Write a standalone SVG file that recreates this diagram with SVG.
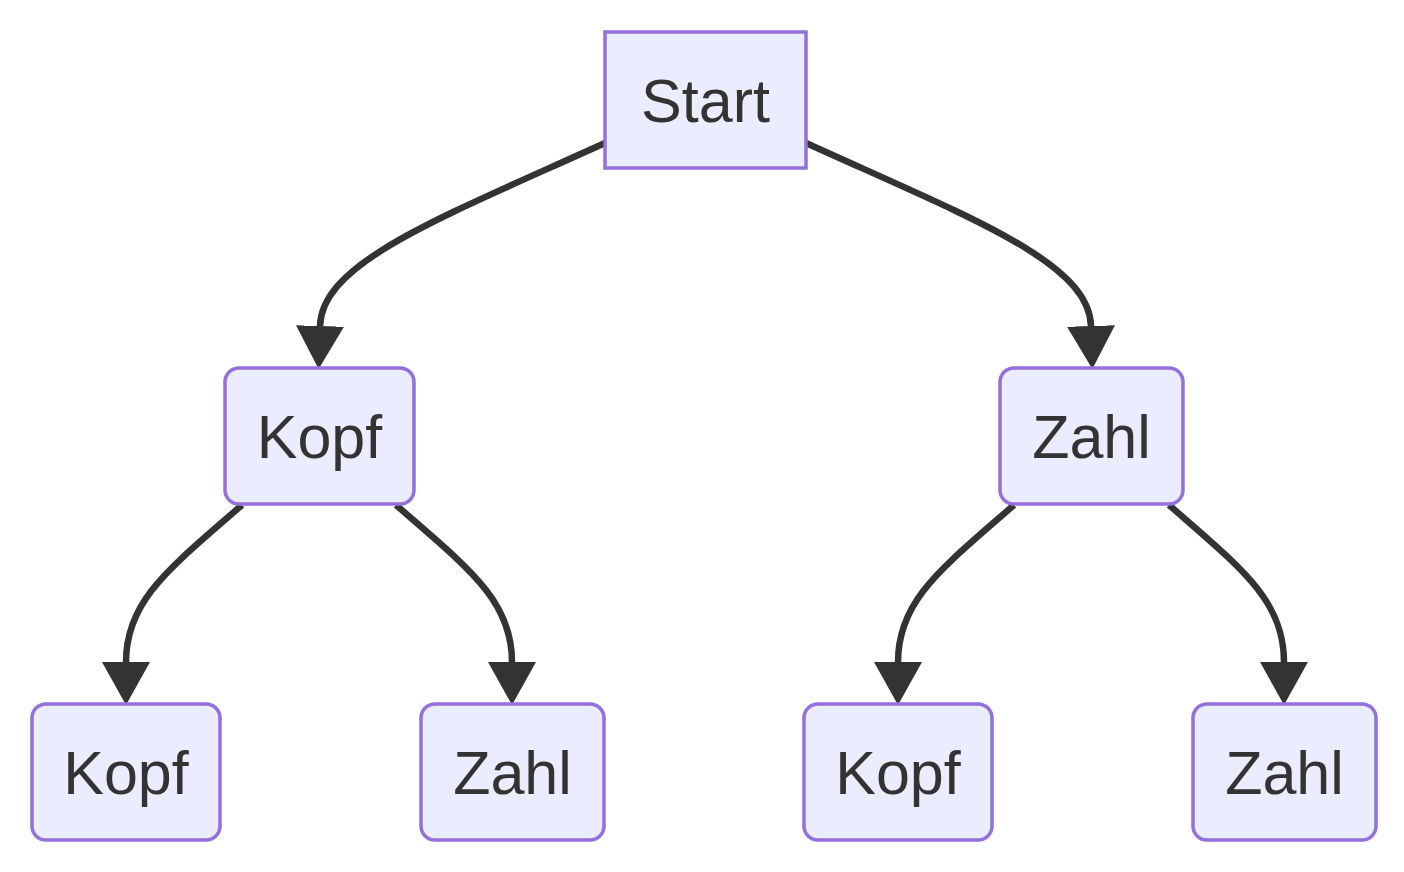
<svg xmlns="http://www.w3.org/2000/svg" width="1404" height="872" viewBox="0 0 1404 872">
<style>
.node rect{fill:#ECECFF;stroke:#9370DB;stroke-width:3.5}
.node text{font-family:"Liberation Sans",Arial,sans-serif;font-size:61px;fill:#333;text-anchor:middle}
.edge{fill:none;stroke:#333;stroke-width:6.5;marker-end:url(#arrow)}
</style>
<defs>
<marker id="arrow" viewBox="0 0 43 48" refX="0" refY="24" markerWidth="43" markerHeight="48" markerUnits="userSpaceOnUse" orient="auto">
<path d="M0,0 L43,24 L0,48 Z" fill="#333"/>
</marker>
</defs>
<rect width="1404" height="872" fill="#fff"/>
<g id="connectors">
<path class="edge" d="M605,143 C440,218 322,262 320,326"/>
<path class="edge" d="M806,143 C971,218 1089,262 1091,326"/>
<path class="edge" d="M242,505 C170,568 126,600 126,662"/>
<path class="edge" d="M396,505 C468,568 512,600 512,662"/>
<path class="edge" d="M1014,505 C942,568 898,600 898,662"/>
<path class="edge" d="M1169,505 C1241,568 1284,600 1284,662"/>
</g>
<g id="start" class="node"><rect x="605" y="32" width="201" height="136"/><text x="705.5" y="122">Start</text></g>
<g id="kopf1" class="node"><rect x="225" y="368" width="189" height="136" rx="14"/><text x="319.5" y="458">Kopf</text></g>
<g id="zahl1" class="node"><rect x="1000" y="368" width="183" height="136" rx="14"/><text x="1091.5" y="458">Zahl</text></g>
<g id="kopf2" class="node"><rect x="32" y="704" width="188" height="136" rx="14"/><text x="126" y="794">Kopf</text></g>
<g id="zahl2" class="node"><rect x="421" y="704" width="183" height="136" rx="14"/><text x="512.5" y="794">Zahl</text></g>
<g id="kopf3" class="node"><rect x="804" y="704" width="188" height="136" rx="14"/><text x="898" y="794">Kopf</text></g>
<g id="zahl3" class="node"><rect x="1193" y="704" width="183" height="136" rx="14"/><text x="1284.5" y="794">Zahl</text></g>
</svg>
